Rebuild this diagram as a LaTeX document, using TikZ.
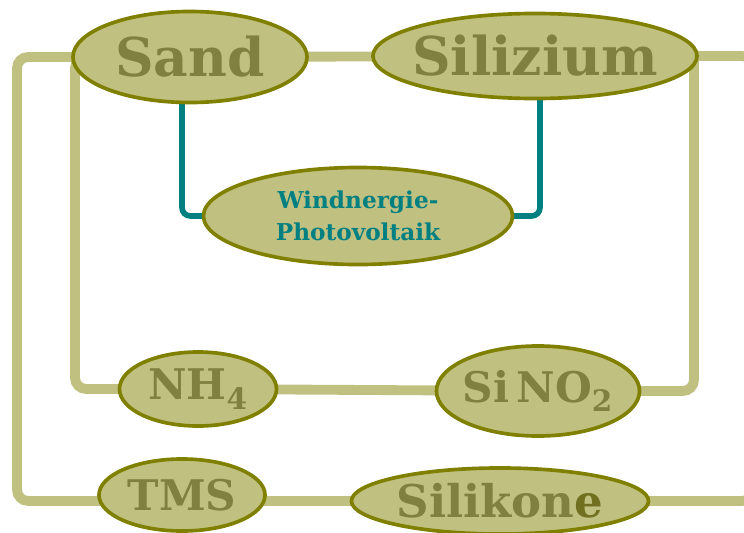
\documentclass[tikz,border=0pt]{standalone}
\usepackage{fontspec}
\setmainfont{DejaVu Serif}
\usetikzlibrary{shapes.geometric,backgrounds}
\definecolor{khaki}{RGB}{192,192,128}
\definecolor{rim}{RGB}{128,128,0}
\definecolor{ink}{RGB}{128,128,64}
\definecolor{inkdark}{RGB}{112,112,32}
\definecolor{tealline}{RGB}{0,128,128}
\begin{document}
\begin{tikzpicture}[x=0.025cm,y=-0.025cm,
    stoff/.style={ellipse,draw=rim,fill=khaki,line width=2.6pt,inner sep=0pt},
    gross/.style={text=ink,font=\bfseries\fontsize{38}{40}\selectfont},
    klein/.style={text=ink,font=\bfseries\fontsize{30}{33}\selectfont},
    kette/.style={draw=khaki,line width=7pt,rounded corners=8pt},
    strom/.style={draw=tealline,line width=4pt,rounded corners=6pt}]
    \useasboundingbox (0,0) rectangle (744,533);
    % substances
    \node [stoff,minimum width=5.85cm,minimum height=2.275cm,label={[gross]center:Sand}] (sand) at (190,57) {};
    \node [stoff,minimum width=8.1cm,minimum height=2.125cm,label={[gross]center:Silizium}] (silizium) at (535,56) {};
    \node [stoff,minimum width=7.725cm,minimum height=2.425cm,align=center,text=tealline,font=\bfseries\fontsize{16.5}{23}\selectfont] (wind) at (358,216) {Windnergie-\\Photovoltaik};
    \node [stoff,minimum width=3.925cm,minimum height=1.85cm,label={[klein]center:NH\textsubscript{4}}] (nh) at (198,389) {};
    \node [stoff,minimum width=5.075cm,minimum height=2.25cm,label={[klein]center:Si\,NO\textsubscript{2}}] (sino) at (538,391) {};
    \node [stoff,minimum width=4.15cm,minimum height=1.8cm,label={[klein]center:TMS}] (tms) at (182,495) {};
    \node [stoff,minimum width=7.425cm,minimum height=1.65cm,label={[klein,font=\bfseries\fontsize{32}{34}\selectfont]center:Silikon\textcolor{inkdark}{e}}] (silikone) at (500,501) {};
    % connections behind the nodes
    \begin{pgfonlayer}{background}
        \draw [kette] (sand.center) -- (silizium.center);
        \draw [kette] (sand.center) -| (17,501) -- (tms.center |- 0,501);
        \draw [kette] (sand.center) -| (75,389) -- (nh.center);
        \draw [kette] (nh.center) -- (sino.center);
        \draw [kette] (sino.center) -| (694,56);
        \draw [kette] (silizium.center) -- (753,56) -- (753,501) -- (silikone.center);
        \draw [kette] (tms.center |- 0,501) -- (silikone.center);
        \draw [strom] (182,57) |- (wind.center);
        \draw [strom] (540,56) |- (wind.center);
    \end{pgfonlayer}
\end{tikzpicture}
\end{document}
